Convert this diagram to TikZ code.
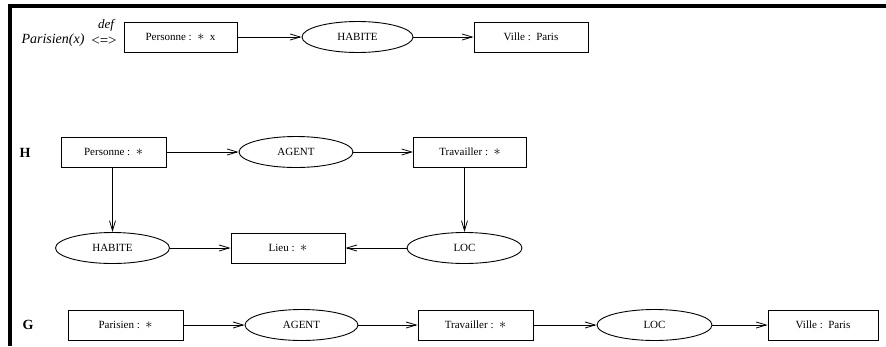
\documentclass[tikz,border=0pt]{standalone}
\usepackage{fontspec}
\setmainfont{Liberation Serif}
\usetikzlibrary{arrows.meta,positioning,shapes.geometric}
\tikzset{
  concept/.style={draw, line width=0.9pt, font=\fontsize{11}{13}\selectfont,
                  minimum width=#1, minimum height=30pt, inner sep=2pt},
  concept/.default=113pt,
  relation/.style={draw, ellipse, line width=0.9pt, font=\fontsize{11}{13}\selectfont,
                   minimum width=#1, minimum height=31pt, inner sep=1pt},
  relation/.default=113pt,
  link/.style={-{Straight Barb[length=10pt,width=6pt]}, line width=0.8pt},
  graphname/.style={font=\fontsize{14}{16}\selectfont\bfseries},
}
\newcommand{\gen}{\scalebox{1.3}{$\ast$}}

\begin{document}
\begin{tikzpicture}[x=1pt, y=-1pt]
\useasboundingbox (0,0) rectangle (886,346);

% Frame
\draw[line width=3.5pt, line join=miter] (886,6) -- (10,6) -- (10,346);

% Definition of Parisien
\node[font=\fontsize{14}{16}\selectfont\itshape, inner sep=0pt] (defname) at (53,40) {Parisien(x)};
\node[font=\fontsize{15}{17}\selectfont, inner sep=0pt] (equiv) at (104,41) {<=>};
\node[font=\fontsize{13}{15}\selectfont\itshape, inner sep=0pt] (deflbl) at (106,25) {def};
\node[concept] (dperson) at (180.5,37) {Personne :\ \ \gen\ \ x};
\node[relation=111pt] (dhabite) at (357.5,37) {HABITE};
\node[concept=114pt] (dville) at (531,37) {Ville :\ \ Paris};
\draw[link] (dperson) -- (dhabite);
\draw[link] (dhabite) -- (dville);

% Graph H
\node[graphname] (hname) at (25,153) {H};
\node[concept=105pt] (hperson) at (113.5,152) {Personne :\ \ \gen};
\node[relation=114pt] (hagent) at (296,152) {AGENT};
\node[concept=113pt] (htrav) at (470,152) {Travailler :\ \ \gen};
\node[relation=114pt] (hhabite) at (112.5,248) {HABITE};
\node[concept=114pt] (hlieu) at (288,248) {Lieu :\ \ \gen};
\node[relation=115pt] (hloc) at (464.5,248) {LOC};
\draw[link] (hperson) -- (hagent);
\draw[link] (hagent) -- (htrav);
\draw[link] (hperson.south -| hhabite.north) -- (hhabite.north);
\draw[link] (htrav.south -| hloc.north) -- (hloc.north);
\draw[link] (hhabite) -- (hlieu);
\draw[link] (hloc) -- (hlieu);

% Graph G
\node[graphname] (gname) at (28,325) {G};
\node[concept=115pt] (gparis) at (125.5,325) {Parisien :\ \ \gen};
\node[relation=113pt] (gagent) at (301.5,325) {AGENT};
\node[concept=115pt] (gtrav) at (475.5,325) {Travailler :\ \ \gen};
\node[relation=115pt] (gloc) at (654.5,325) {LOC};
\node[concept=110pt] (gville) at (823,325) {Ville :\ \ Paris};
\draw[link] (gparis) -- (gagent);
\draw[link] (gagent) -- (gtrav);
\draw[link] (gtrav) -- (gloc);
\draw[link] (gloc) -- (gville);

\end{tikzpicture}
\end{document}
